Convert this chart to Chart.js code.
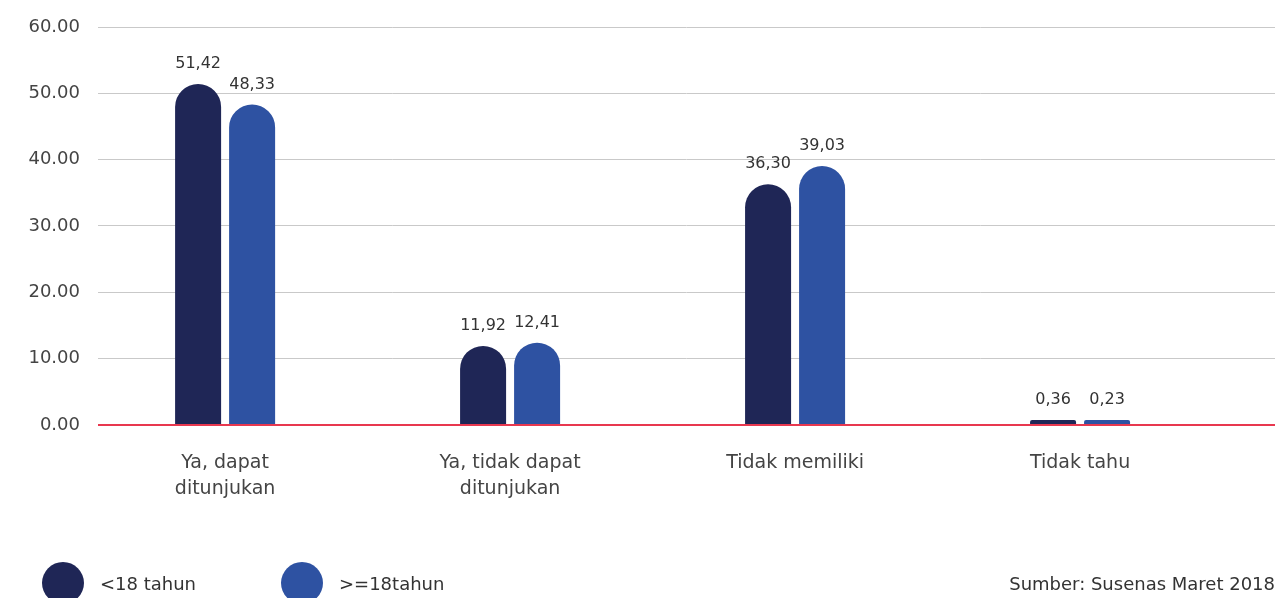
<!DOCTYPE html>
<html>
<head>
<meta charset="utf-8">
<script src="https://cdn.jsdelivr.net/npm/chart.js@4"></script>
<style>
  html, body { margin: 0; padding: 0; background: #fff; }
  #wrap { width: 1275px; height: 598px; position: relative; }
</style>
</head>
<body>
<div id="wrap"><canvas id="chart"></canvas></div>
<script>
// data
const categories = [['Ya, dapat', 'ditunjukan'], ['Ya, tidak dapat', 'ditunjukan'], 'Tidak memiliki', 'Tidak tahu'];
const under18 = [51.42, 11.92, 36.30, 0.36];
const over18 = [48.33, 12.41, 39.03, 0.23];
const seriesNames = ['<18 tahun', '>=18tahun'];
const yTicks = [0, 10, 20, 30, 40, 50, 60];
const source = 'Sumber: Susenas Maret 2018';

const FONT = '"DejaVu Sans", sans-serif';
const colors = ['#1f2656', '#2e52a2'];

const toPoints = arr => arr.map((v, i) => ({ x: i, y: v }));

const valueLabels = {
  id: 'valueLabels',
  afterDatasetsDraw(chart) {
    const ctx = chart.ctx;
    ctx.save();
    ctx.font = '16px ' + FONT;
    ctx.fillStyle = '#333';
    ctx.textAlign = 'center';
    ctx.textBaseline = 'middle';
    chart.data.datasets.forEach((ds, di) => {
      chart.getDatasetMeta(di).data.forEach((bar, i) => {
        const txt = ds.data[i].y.toFixed(2).replace('.', ',');
        ctx.fillText(txt, bar.x, bar.y - 20);
      });
    });
    ctx.restore();
  }
};

const bottomLegend = {
  id: 'bottomLegend',
  afterDraw(chart) {
    const ctx = chart.ctx;
    const y = 583;
    ctx.save();
    ctx.font = '18px ' + FONT;
    ctx.textBaseline = 'middle';
    const xs = [63, 302];
    seriesNames.forEach((name, i) => {
      ctx.fillStyle = colors[i];
      ctx.beginPath();
      ctx.arc(xs[i], y, 21, 0, Math.PI * 2);
      ctx.fill();
      ctx.fillStyle = '#333';
      ctx.textAlign = 'left';
      ctx.fillText(name, xs[i] + 37, y + 2);
    });
    ctx.textAlign = 'right';
    ctx.fillText(source, 1275, y + 2);
    ctx.restore();
  }
};

new Chart(document.getElementById('chart'), {
  type: 'bar',
  data: {
    datasets: [
      { label: seriesNames[0], data: toPoints(under18), backgroundColor: colors[0] },
      { label: seriesNames[1], data: toPoints(over18), backgroundColor: colors[1] }
    ]
  },
  options: {
    responsive: true,
    maintainAspectRatio: false,
    animation: false,
    categoryPercentage: 0.379,
    barPercentage: 0.852,
    minBarLength: 5,
    borderRadius: { topLeft: 23, topRight: 23 },
    borderSkipped: 'bottom',
    layout: { padding: { top: 6, right: 0, bottom: 79, left: 0 } },
    plugins: { legend: { display: false }, tooltip: { enabled: false } },
    scales: {
      x: {
        type: 'linear',
        offset: false,
        min: -0.446,
        max: 3.684,
        grid: { display: false },
        border: { display: false },
        afterBuildTicks: s => { s.ticks = categories.map((_, i) => ({ value: i })); },
        ticks: {
          autoSkip: false,
          maxRotation: 0,
          padding: 17,
          color: '#444',
          font: { family: FONT, size: 19, lineHeight: 1.37 },
          callback: v => categories[v]
        }
      },
      y: {
        min: 0,
        max: 60,
        afterBuildTicks: s => { s.ticks = yTicks.map(v => ({ value: v })); },
        afterFit: s => { s.width = 98; },
        grid: {
          drawTicks: false,
          color: c => c.tick && c.tick.value === 0 ? '#e8384f' : '#c9c9c9',
          lineWidth: c => c.tick && c.tick.value === 0 ? 2 : 1
        },
        border: { display: false },
        ticks: {
          padding: 18,
          color: '#444',
          font: { family: FONT, size: 18, lineHeight: 1 },
          callback: v => v.toFixed(2)
        }
      }
    }
  },
  plugins: [valueLabels, bottomLegend]
});
</script>
</body>
</html>
